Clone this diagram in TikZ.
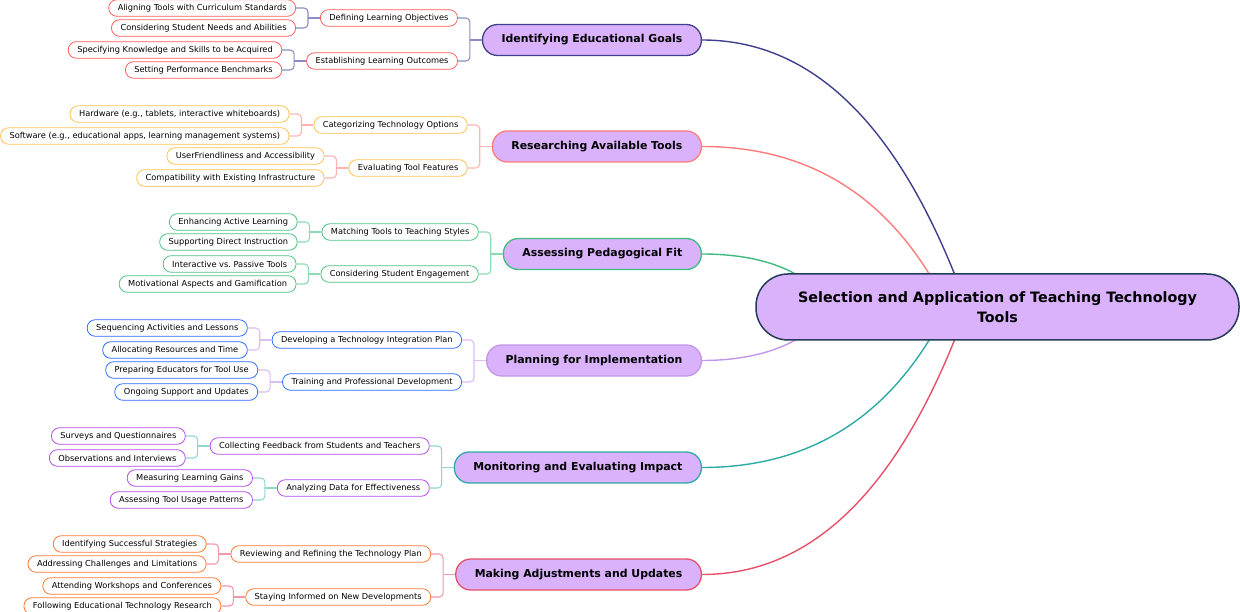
\documentclass[tikz,border=0pt]{standalone}
\usepackage{fontspec}
\setmainfont{DejaVu Sans}
\usetikzlibrary{backgrounds}
\frenchspacing

\definecolor{mainfill}{HTML}{D9B2FB}
\definecolor{mainline}{HTML}{263A59}
\definecolor{lineA}{HTML}{3F3F8E}
\definecolor{lineB}{HTML}{FF7B7B}
\definecolor{lineC}{HTML}{3EBB7E}
\definecolor{lineD}{HTML}{C396E8}
\definecolor{lineE}{HTML}{2BAAA6}
\definecolor{lineF}{HTML}{E8506A}
\definecolor{forkA}{HTML}{8C8CC4}
\definecolor{forkB}{HTML}{FFB3B3}
\definecolor{forkC}{HTML}{8FD9B3}
\definecolor{forkD}{HTML}{DDBDF2}
\definecolor{forkE}{HTML}{8FD6D3}
\definecolor{forkF}{HTML}{F09AA8}
\definecolor{kidA}{HTML}{FF5C5C}
\definecolor{kidB}{HTML}{FFC250}
\definecolor{kidC}{HTML}{4CC27F}
\definecolor{kidD}{HTML}{2F6BFF}
\definecolor{kidE}{HTML}{B44DEB}
\definecolor{kidF}{HTML}{FF7A33}

\begin{document}
\begin{tikzpicture}[x=1pt,y=-1pt,
  mainbox/.style={draw=mainline, fill=mainfill, line width=1.5pt, rounded corners=32pt,
    minimum height=66pt, minimum width=483pt, align=center,
    font=\fontsize{14.3}{19.5}\selectfont\bfseries},
  topicbox/.style={draw=#1, fill=mainfill, line width=1.3pt, rounded corners=15pt,
    minimum height=31pt, inner xsep=19pt, anchor=east,
    font=\fontsize{10.9}{12}\selectfont\bfseries},
  itembox/.style={draw=#1, fill=white, line width=0.8pt, rounded corners=8pt,
    minimum height=16.5pt, inner xsep=9pt, inner ysep=0pt, anchor=east, xshift=-24pt,
    font=\fontsize{8.25}{10}\selectfont},
  trunk/.style={draw=#1, line width=1.4pt},
  fork/.style={draw=#1, line width=1.1pt, rounded corners=4pt}
  ]
\useasboundingbox (0,0) rectangle (1240,612);

% centre
\node[mainbox] (root) at (997.5,307) {Selection and Application of Teaching Technology\\Tools};

% main topics
\node[topicbox=lineA] (b1) at (702,40) {Identifying Educational Goals};
\node[topicbox=lineB] (b2) at (702,146.5) {Researching Available Tools};
\node[topicbox=lineC] (b3) at (702,254) {Assessing Pedagogical Fit};
\node[topicbox=lineD] (b4) at (702,360.5) {Planning for Implementation};
\node[topicbox=lineE] (b5) at (702,467.5) {Monitoring and Evaluating Impact};
\node[topicbox=lineF] (b6) at (702,574.5) {Making Adjustments and Updates};

% goals
\node[itembox=kidA, yshift=22pt] (g1) at (b1.west) {Defining Learning Objectives};
\node[itembox=kidA, yshift=-21pt] (g2) at (b1.west) {Establishing Learning Outcomes};
\node[itembox=kidA, yshift=10pt] (g11) at (g1.west) {Aligning Tools with Curriculum Standards};
\node[itembox=kidA, yshift=-10pt] (g12) at (g1.west) {Considering Student Needs and Abilities};
\node[itembox=kidA, yshift=11pt] (g21) at (g2.west) {Specifying Knowledge and Skills to be Acquired};
\node[itembox=kidA, yshift=-9pt] (g22) at (g2.west) {Setting Performance Benchmarks};

% tools
\node[itembox=kidB, yshift=21.5pt] (r1) at (b2.west) {Categorizing Technology Options};
\node[itembox=kidB, yshift=-21.5pt] (r2) at (b2.west) {Evaluating Tool Features};
\node[itembox=kidB, yshift=11pt] (r11) at (r1.west) {Hardware (e.g., tablets, interactive whiteboards)};
\node[itembox=kidB, yshift=-11pt] (r12) at (r1.west) {Software (e.g., educational apps, learning management systems)};
\node[itembox=kidB, yshift=12pt] (r21) at (r2.west) {UserFriendliness and Accessibility};
\node[itembox=kidB, yshift=-10pt] (r22) at (r2.west) {Compatibility with Existing Infrastructure};

% pedagogy
\node[itembox=kidC, yshift=22pt] (a1) at (b3.west) {Matching Tools to Teaching Styles};
\node[itembox=kidC, yshift=-20pt] (a2) at (b3.west) {Considering Student Engagement};
\node[itembox=kidC, yshift=10pt] (a11) at (a1.west) {Enhancing Active Learning};
\node[itembox=kidC, yshift=-10pt] (a12) at (a1.west) {Supporting Direct Instruction};
\node[itembox=kidC, yshift=10pt] (a21) at (a2.west) {Interactive vs. Passive Tools};
\node[itembox=kidC, yshift=-10pt] (a22) at (a2.west) {Motivational Aspects and Gamification};

% implementation
\node[itembox=kidD, yshift=20.5pt] (p1) at (b4.west) {Developing a Technology Integration Plan};
\node[itembox=kidD, yshift=-21.5pt] (p2) at (b4.west) {Training and Professional Development};
\node[itembox=kidD, yshift=12pt] (p11) at (p1.west) {Sequencing Activities and Lessons};
\node[itembox=kidD, yshift=-10pt] (p12) at (p1.west) {Allocating Resources and Time};
\node[itembox=kidD, yshift=12pt] (p21) at (p2.west) {Preparing Educators for Tool Use};
\node[itembox=kidD, yshift=-10pt] (p22) at (p2.west) {Ongoing Support and Updates};

% monitoring
\node[itembox=kidE, yshift=21.5pt] (m1) at (b5.west) {Collecting Feedback from Students and Teachers};
\node[itembox=kidE, yshift=-20.5pt] (m2) at (b5.west) {Analyzing Data for Effectiveness};
\node[itembox=kidE, yshift=10pt] (m11) at (m1.west) {Surveys and Questionnaires};
\node[itembox=kidE, yshift=-12pt] (m12) at (m1.west) {Observations and Interviews};
\node[itembox=kidE, yshift=10pt] (m21) at (m2.west) {Measuring Learning Gains};
\node[itembox=kidE, yshift=-12pt] (m22) at (m2.west) {Assessing Tool Usage Patterns};

% adjustments
\node[itembox=kidF, yshift=20.5pt] (s1) at (b6.west) {Reviewing and Refining the Technology Plan};
\node[itembox=kidF, yshift=-22.5pt] (s2) at (b6.west) {Staying Informed on New Developments};
\node[itembox=kidF, yshift=10pt] (s11) at (s1.west) {Identifying Successful Strategies};
\node[itembox=kidF, yshift=-10pt] (s12) at (s1.west) {Addressing Challenges and Limitations};
\node[itembox=kidF, yshift=11pt] (s21) at (s2.west) {Attending Workshops and Conferences};
\node[itembox=kidF, yshift=-9pt] (s22) at (s2.west) {Following Educational Technology Research};

\begin{scope}[on background layer]
  \draw[trunk=lineA] (b1.east) .. controls (808,40) and (892,118) .. ([xshift=-42.5pt,yshift=-2pt]root.north);
  \draw[trunk=lineB] (b2.east) .. controls (801,146.5) and (877,189) .. ([xshift=-67.5pt,yshift=-2pt]root.north);
  \draw[trunk=lineC] (b3.east) .. controls (743,254) and (776,262) .. ([xshift=44pt,yshift=-3pt]root.north west);
  \draw[trunk=lineD] (b4.east) .. controls (743,360.5) and (776,352) .. ([xshift=44pt,yshift=3pt]root.south west);
  \draw[trunk=lineE] (b5.east) .. controls (801,467.5) and (877,425) .. ([xshift=-67.5pt,yshift=2pt]root.south);
  \draw[trunk=lineF] (b6.east) .. controls (808,574.5) and (892,496) .. ([xshift=-42.5pt,yshift=2pt]root.south);
\end{scope}

% brackets
\foreach \p/\c/\k in {b1/g1/forkA, b1/g2/forkA, g1/g11/forkA, g1/g12/forkA, g2/g21/forkA, g2/g22/forkA,
    b2/r1/forkB, b2/r2/forkB, r1/r11/forkB, r1/r12/forkB, r2/r21/forkB, r2/r22/forkB,
    b3/a1/forkC, b3/a2/forkC, a1/a11/forkC, a1/a12/forkC, a2/a21/forkC, a2/a22/forkC,
    b4/p1/forkD, b4/p2/forkD, p1/p11/forkD, p1/p12/forkD, p2/p21/forkD, p2/p22/forkD,
    b5/m1/forkE, b5/m2/forkE, m1/m11/forkE, m1/m12/forkE, m2/m21/forkE, m2/m22/forkE,
    b6/s1/forkF, b6/s2/forkF, s1/s11/forkF, s1/s12/forkF, s2/s21/forkF, s2/s22/forkF}
{
  \draw[fork=\k] (\p.west) -- ++(-12,0);
  \draw[fork=\k] ([xshift=-12pt]\p.west) |- (\c.east);
}
\end{tikzpicture}
\end{document}
